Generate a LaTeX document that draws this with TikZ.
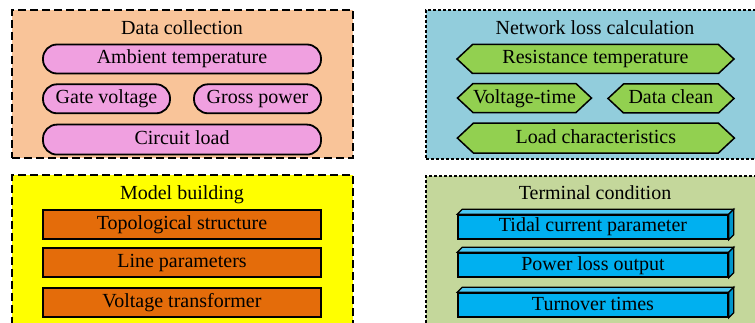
\documentclass[tikz,border=0pt]{standalone}
\usepackage{fontspec}
\setmainfont{Liberation Serif}
\usepackage{tikz}
\usetikzlibrary{positioning}
\usetikzlibrary{calc}
\usetikzlibrary{shapes.symbols}

\definecolor{peach}{RGB}{249,196,153}
\definecolor{pinkbox}{RGB}{240,160,224}
\definecolor{paleblue}{RGB}{146,205,220}
\definecolor{leafgreen}{RGB}{146,208,80}
\definecolor{brightyellow}{RGB}{255,255,0}
\definecolor{rust}{RGB}{228,108,10}
\definecolor{olive}{RGB}{196,215,155}
\definecolor{skycyan}{RGB}{0,176,240}

\tikzset{
  panel/.style={rectangle, draw, line width=1.6pt, inner sep=0pt},
  longdash/.style={dash pattern=on 8pt off 4pt},
  shortdash/.style={dash pattern=on 3pt off 2pt},
  txt/.style={text height=15pt, text depth=5pt},
  pill/.style={txt, rectangle, rounded corners=14pt, draw, line width=1.8pt, fill=pinkbox,
    minimum height=29pt, inner sep=0pt},
  hexa/.style={txt, signal, signal to=east and west, signal pointer angle=86, draw,
    line width=1.5pt, fill=leafgreen, minimum height=29pt, inner sep=0pt},
  slab/.style={txt, rectangle, draw, line width=1.5pt, fill=rust,
    minimum width=278pt, minimum height=29pt, inner sep=0pt},
  cube/.style={txt, rectangle, draw, line width=1.5pt, fill=skycyan,
    minimum width=270pt, minimum height=24pt, inner sep=0pt},
}

% top and side faces of a cuboid node
\newcommand{\cubedepth}[1]{%
  \filldraw[line width=1.2pt, fill=skycyan!70!white]
    (#1.north west) -- ++(5,-5) -- ($(#1.north east)+(5,-5)$) -- (#1.north east) -- cycle;
  \filldraw[line width=1.2pt, fill=skycyan!85!black]
    (#1.north east) -- ++(5,-5) -- ($(#1.south east)+(5,-5)$) -- (#1.south east) -- cycle;
}

\begin{document}
\begin{tikzpicture}[x=1pt, y=-1pt, font=\fontsize{20}{24}\selectfont]
    \clip (0,0) rectangle (755,323);
    \fill[white] (0,0) rectangle (755,323);

    % panels
    \node[panel, longdash, fill=peach, minimum width=341pt, minimum height=148pt] (p1) at (182.5,84) {};
    \node[panel, shortdash, fill=paleblue, minimum width=338pt, minimum height=149pt] (p2) at (595,84.5) {};
    \node[panel, longdash, fill=brightyellow, minimum width=341pt, minimum height=160pt] (p3) at (182.5,255) {};
    \node[panel, shortdash, fill=olive, minimum width=338pt, minimum height=160pt] (p4) at (595,256) {};

    \node[txt] (t1) at (182,30) {Data collection};
    \node[txt] (t2) at (595,30) {Network loss calculation};
    \node[txt] (t3) at (182,195) {Model building};
    \node[txt] (t4) at (595,195) {Terminal condition};

    % data collection
    \node[pill, minimum width=278pt] (amb) at (182,59) {Ambient temperature};
    \node[pill, minimum width=127pt, below=9pt of amb.south west, anchor=north west] (gate) {Gate voltage};
    \node[pill, minimum width=127pt, below=9pt of amb.south east, anchor=north east] (gross) {Gross power};
    \node[pill, minimum width=278pt, minimum height=30pt, below=9.5pt of gate.south west, anchor=north west] (circ) {Circuit load};

    % network loss calculation
    \node[hexa, minimum width=277pt] (resis) at (595.5,59) {Resistance temperature};
    \node[hexa, minimum width=128pt, below=9pt of resis.south west, anchor=north west] (vtime) {Voltage-time};
    \node[hexa, minimum width=126pt, below=9pt of resis.south east, anchor=north east] (clean) {Data clean};
    \node[hexa, minimum width=277pt, minimum height=30pt, below=9.5pt of vtime.south west, anchor=north west] (loadc) {Load characteristics};

    % model building
    \node[slab] (topo) at (182,224.5) {Topological structure};
    \node[slab, below=7.5pt of topo] (linep) {Line parameters};
    \node[slab, below=9.5pt of linep] (vtrans) {Voltage transformer};

    % terminal condition
    \node[cube] (tidal) at (593,227) {Tidal current parameter};
    \node[cube, below=12.5pt of tidal] (ploss) {Power loss output};
    \node[cube, below=14.5pt of ploss] (turn) {Turnover times};
    \cubedepth{tidal}
    \cubedepth{ploss}
    \cubedepth{turn}

\end{tikzpicture}
\end{document}
